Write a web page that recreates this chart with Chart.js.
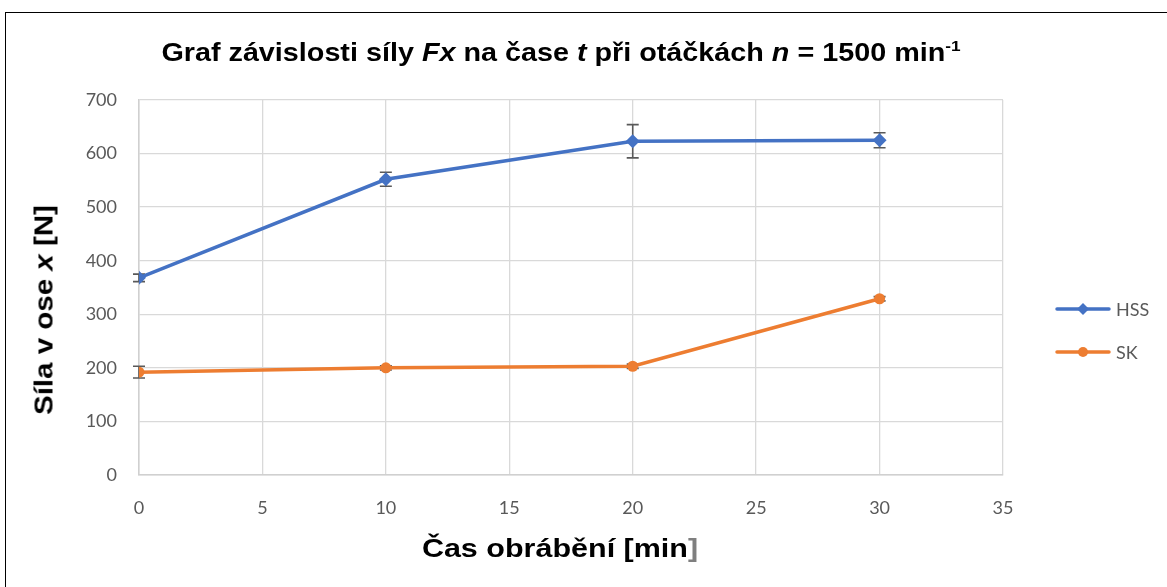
<!DOCTYPE html>
<html>
<head>
<meta charset="utf-8">
<script src="https://cdn.jsdelivr.net/npm/chart.js@4"></script>
<style>
  html, body { margin: 0; padding: 0; background: #fff; }
  #wrap { position: relative; width: 1167px; height: 587px; overflow: hidden; }
  #frame { position: absolute; left: 5px; top: 12px; width: 1200px; height: 620px; border: 1.5px solid #000; box-sizing: border-box; }
  canvas { position: absolute; left: 0; top: 0; }
  .lbl { position: absolute; font-family: "Liberation Sans", Arial, sans-serif; font-weight: bold; color: #000; white-space: nowrap; }
  #titulek { left: 561px; top: 52px; font-size: 25px; transform: translate(-50%, -50%) scaleX(1.15); }
  #titulek sup { font-size: 15px; vertical-align: 10px; line-height: 0; }
  #osaX { left: 560px; top: 548px; font-size: 25px; transform: translate(-50%, -50%) scaleX(1.22); }
  #osaX span { color: #7f7f7f; }
  #osaY { left: 44px; top: 310px; font-size: 25px; transform: translate(-50%, -50%) rotate(-90deg) scaleX(1.18); }
</style>
</head>
<body>
<div id="wrap">
  <div id="frame"></div>
  <canvas id="graf" width="1167" height="587"></canvas>
  <div id="titulek" class="lbl">Graf závislosti síly <i>Fx</i> na čase <i>t</i> při otáčkách <i>n</i> = 1500 min<sup>-1</sup></div>
  <div id="osaY" class="lbl">Síla v ose <i>x</i> [N]</div>
  <div id="osaX" class="lbl">Čas obrábění [min<span>]</span></div>
</div>
<script>
// data
const casy = [0, 10, 20, 30];
const hss = [368, 552, 623, 625];
const hssChyba = [7, 13, 31, 14];
const sk = [192, 200, 203, 329];
const skChyba = [11, 4, 4, 4];

const modra = '#4472C4';
const oranzova = '#ED7D31';

function body(xs, ys) {
  return xs.map((x, i) => ({ x: x, y: ys[i] }));
}

// chybove usecky
const chybovky = {
  id: 'chybovky',
  beforeDatasetsDraw(chart) {
    const ctx = chart.ctx;
    const sx = chart.scales.x;
    const sy = chart.scales.y;
    ctx.save();
    ctx.strokeStyle = '#595959';
    ctx.lineWidth = 1.6;
    chart.data.datasets.forEach(ds => {
      ds.data.forEach((p, i) => {
        const e = ds.chyby[i];
        const x = sx.getPixelForValue(p.x);
        const y1 = sy.getPixelForValue(p.y - e);
        const y2 = sy.getPixelForValue(p.y + e);
        ctx.beginPath();
        ctx.moveTo(x, y1); ctx.lineTo(x, y2);
        ctx.moveTo(x - 6, y1); ctx.lineTo(x + 6, y1);
        ctx.moveTo(x - 6, y2); ctx.lineTo(x + 6, y2);
        ctx.stroke();
      });
    });
    ctx.restore();
  }
};

// legenda vpravo
const legenda = {
  id: 'legenda',
  afterDraw(chart) {
    const ctx = chart.ctx;
    const radky = [309, 352];
    ctx.save();
    chart.data.datasets.forEach((ds, i) => {
      const y = radky[i];
      ctx.strokeStyle = ds.borderColor;
      ctx.lineWidth = 3.5;
      ctx.lineCap = 'round';
      ctx.beginPath();
      ctx.moveTo(1057, y); ctx.lineTo(1109, y);
      ctx.stroke();
      ctx.fillStyle = ds.borderColor;
      ctx.beginPath();
      if (ds.pointStyle === 'rectRot') {
        ctx.moveTo(1083, y - 6); ctx.lineTo(1089, y); ctx.lineTo(1083, y + 6); ctx.lineTo(1077, y);
      } else {
        ctx.arc(1083, y, 5, 0, Math.PI * 2);
      }
      ctx.fill();
      ctx.fillStyle = '#595959';
      ctx.font = '18px Lato, "Open Sans", sans-serif';
      ctx.textBaseline = 'middle';
      ctx.fillText(ds.label, 1116, y + 1);
    });
    ctx.restore();
  }
};

new Chart(document.getElementById('graf'), {
  type: 'line',
  data: {
    datasets: [
      {
        label: 'HSS',
        data: body(casy, hss),
        chyby: hssChyba,
        borderColor: modra,
        backgroundColor: modra,
        borderWidth: 3.5,
        pointStyle: 'rectRot',
        pointRadius: 7,
        pointBorderWidth: 0,
        tension: 0
      },
      {
        label: 'SK',
        data: body(casy, sk),
        chyby: skChyba,
        borderColor: oranzova,
        backgroundColor: oranzova,
        borderWidth: 3.5,
        pointStyle: 'circle',
        pointRadius: 5.5,
        pointBorderWidth: 0,
        tension: 0
      }
    ]
  },
  options: {
    responsive: false,
    animation: false,
    layout: { padding: { top: 100, right: 164, left: 0, bottom: 0 } },
    plugins: { legend: { display: false }, tooltip: { enabled: false } },
    scales: {
      x: {
        type: 'linear',
        min: 0, max: 35,
        ticks: { stepSize: 5, padding: 22, color: '#595959', font: { family: 'Lato, "Open Sans", sans-serif', size: 18 } },
        grid: { color: '#d9d9d9', lineWidth: 1.3, drawTicks: false },
        border: { color: '#d0d0d0', width: 1.5 },
        afterFit(s) { s.height = 112; }
      },
      y: {
        min: 0, max: 700,
        ticks: { stepSize: 100, padding: 22, color: '#595959', font: { family: 'Lato, "Open Sans", sans-serif', size: 18 } },
        grid: { color: '#d9d9d9', lineWidth: 1.3, drawTicks: false },
        border: { color: '#d0d0d0', width: 1.5 },
        afterFit(s) { s.width = 139; }
      }
    }
  },
  plugins: [chybovky, legenda]
});
</script>
</body>
</html>
